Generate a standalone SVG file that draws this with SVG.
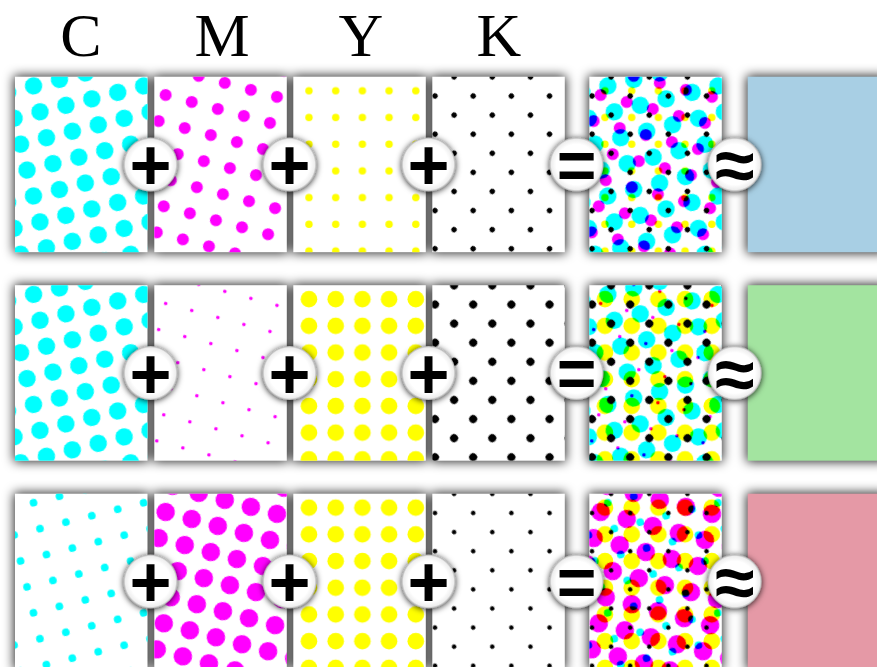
<svg xmlns="http://www.w3.org/2000/svg" width="877" height="667" viewBox="0 0 877 667">
<style>
.hdr{font-family:"Liberation Serif","Times New Roman",serif;font-size:62px;fill:#000;text-anchor:middle}
.op{font-family:"Liberation Sans",Arial,sans-serif;font-weight:bold;font-size:72px;fill:#000;text-anchor:middle}
.eq{font-size:68px}
.paper{fill:#fff}
.mix{mix-blend-mode:multiply}
.sh{fill:#000;opacity:0.85}
.disc{fill:url(#discg);filter:url(#dshadow)}
</style>
<defs>
<filter id="blur" x="-20%" y="-20%" width="140%" height="140%"><feGaussianBlur stdDeviation="5.5"/></filter>
<filter id="dshadow" x="-40%" y="-40%" width="180%" height="180%"><feDropShadow dx="0" dy="1" stdDeviation="3" flood-color="#000" flood-opacity="0.85"/></filter>
<radialGradient id="discg" cx="0.5" cy="0.5" r="0.5"><stop offset="0.75" stop-color="#fff"/><stop offset="0.93" stop-color="#eee"/><stop offset="1" stop-color="#aaa"/></radialGradient>
<pattern id="c1" width="26.7" height="26.7" patternUnits="userSpaceOnUse" patternTransform="rotate(-14)"><circle cx="15.8" cy="13.3" r="8.7" fill="#0ff"/></pattern>
<pattern id="c3" width="26.7" height="26.7" patternUnits="userSpaceOnUse" patternTransform="rotate(-14)"><circle cx="15.8" cy="13.3" r="3.8" fill="#0ff"/></pattern>
<pattern id="m1" width="27" height="27" patternUnits="userSpaceOnUse" patternTransform="rotate(15)"><circle cx="15.7" cy="14.75" r="6" fill="#f0f"/></pattern>
<pattern id="m2" width="27" height="27" patternUnits="userSpaceOnUse" patternTransform="rotate(15)"><circle cx="15.7" cy="14.75" r="1.8" fill="#f0f"/></pattern>
<pattern id="m3" width="27" height="27" patternUnits="userSpaceOnUse" patternTransform="rotate(15)"><circle cx="15.7" cy="14.75" r="9.3" fill="#f0f"/></pattern>
<pattern id="y1" width="26.7" height="26.7" patternUnits="userSpaceOnUse"><circle cx="15.7" cy="14" r="3.7" fill="#ff0"/></pattern>
<pattern id="y2" width="26.7" height="26.7" patternUnits="userSpaceOnUse"><circle cx="15.7" cy="14" r="8.3" fill="#ff0"/></pattern>
<pattern id="k1" width="27" height="27" patternUnits="userSpaceOnUse" patternTransform="rotate(45)"><circle cx="15.56" cy="11.74" r="2.7" fill="#000"/></pattern>
<pattern id="k2" width="27" height="27" patternUnits="userSpaceOnUse" patternTransform="rotate(45)"><circle cx="15.56" cy="11.74" r="4" fill="#000"/></pattern>
<pattern id="k3" width="27" height="27" patternUnits="userSpaceOnUse" patternTransform="rotate(45)"><circle cx="15.56" cy="11.74" r="2.3" fill="#000"/></pattern>
<rect id="tile" width="132.5" height="175.5"/>
</defs>
<rect width="877" height="667" fill="#fff"/>

<g id="headers">
<text class="hdr" x="81" y="56">C</text>
<text class="hdr" x="222" y="56">M</text>
<text class="hdr" x="361" y="56">Y</text>
<text class="hdr" x="499" y="56">K</text>
</g>

<g id="shadows" filter="url(#blur)">
<rect class="sh" x="14" y="75.7" width="134.5" height="177.5"/>
<rect class="sh" x="153.3" y="75.7" width="134.5" height="177.5"/>
<rect class="sh" x="292.3" y="75.7" width="134.5" height="177.5"/>
<rect class="sh" x="431.3" y="75.7" width="134.5" height="177.5"/>
<rect class="sh" x="588.3" y="75.7" width="134.5" height="177.5"/>
<rect class="sh" x="746.7" y="75.7" width="140" height="177.5"/>
<rect class="sh" x="14" y="284.2" width="134.5" height="177.5"/>
<rect class="sh" x="153.3" y="284.2" width="134.5" height="177.5"/>
<rect class="sh" x="292.3" y="284.2" width="134.5" height="177.5"/>
<rect class="sh" x="431.3" y="284.2" width="134.5" height="177.5"/>
<rect class="sh" x="588.3" y="284.2" width="134.5" height="177.5"/>
<rect class="sh" x="746.7" y="284.2" width="140" height="177.5"/>
<rect class="sh" x="14" y="492.7" width="134.5" height="177.5"/>
<rect class="sh" x="153.3" y="492.7" width="134.5" height="177.5"/>
<rect class="sh" x="292.3" y="492.7" width="134.5" height="177.5"/>
<rect class="sh" x="431.3" y="492.7" width="134.5" height="177.5"/>
<rect class="sh" x="588.3" y="492.7" width="134.5" height="177.5"/>
<rect class="sh" x="746.7" y="492.7" width="140" height="177.5"/>
</g>

<g id="r1-c" transform="translate(15,76.7)"><use href="#tile" class="paper"/><use href="#tile" fill="url(#c1)"/></g>
<g id="r1-m" transform="translate(154.3,76.7)"><use href="#tile" class="paper"/><use href="#tile" fill="url(#m1)"/></g>
<g id="r1-y" transform="translate(293.3,76.7)"><use href="#tile" class="paper"/><use href="#tile" fill="url(#y1)"/></g>
<g id="r1-k" transform="translate(432.3,76.7)"><use href="#tile" class="paper"/><use href="#tile" fill="url(#k1)"/></g>
<g id="r1-mix" transform="translate(589.3,76.7)" style="isolation:isolate"><use href="#tile" class="paper"/><use href="#tile" class="mix" fill="url(#c1)"/><use href="#tile" class="mix" fill="url(#m1)"/><use href="#tile" class="mix" fill="url(#y1)"/><use href="#tile" class="mix" fill="url(#k1)"/></g>
<g id="r1-result"><rect x="747.7" y="76.7" width="140" height="175.5" fill="#a8cfe4"/></g>

<g id="r2-c" transform="translate(15,285.2)"><use href="#tile" class="paper"/><use href="#tile" fill="url(#c1)"/></g>
<g id="r2-m" transform="translate(154.3,285.2)"><use href="#tile" class="paper"/><use href="#tile" fill="url(#m2)"/></g>
<g id="r2-y" transform="translate(293.3,285.2)"><use href="#tile" class="paper"/><use href="#tile" fill="url(#y2)"/></g>
<g id="r2-k" transform="translate(432.3,285.2)"><use href="#tile" class="paper"/><use href="#tile" fill="url(#k2)"/></g>
<g id="r2-mix" transform="translate(589.3,285.2)" style="isolation:isolate"><use href="#tile" class="paper"/><use href="#tile" class="mix" fill="url(#c1)"/><use href="#tile" class="mix" fill="url(#m2)"/><use href="#tile" class="mix" fill="url(#y2)"/><use href="#tile" class="mix" fill="url(#k2)"/></g>
<g id="r2-result"><rect x="747.7" y="285.2" width="140" height="175.5" fill="#a3e4a0"/></g>

<g id="r3-c" transform="translate(15,493.7)"><use href="#tile" class="paper"/><use href="#tile" fill="url(#c3)"/></g>
<g id="r3-m" transform="translate(154.3,493.7)"><use href="#tile" class="paper"/><use href="#tile" fill="url(#m3)"/></g>
<g id="r3-y" transform="translate(293.3,493.7)"><use href="#tile" class="paper"/><use href="#tile" fill="url(#y2)"/></g>
<g id="r3-k" transform="translate(432.3,493.7)"><use href="#tile" class="paper"/><use href="#tile" fill="url(#k3)"/></g>
<g id="r3-mix" transform="translate(589.3,493.7)" style="isolation:isolate"><use href="#tile" class="paper"/><use href="#tile" class="mix" fill="url(#c3)"/><use href="#tile" class="mix" fill="url(#m3)"/><use href="#tile" class="mix" fill="url(#y2)"/><use href="#tile" class="mix" fill="url(#k3)"/></g>
<g id="r3-result"><rect x="747.7" y="493.7" width="140" height="175.5" fill="#e599a6"/></g>

<g id="operators">
<g id="r1-op1"><circle class="disc" cx="150.5" cy="164.5" r="27"/><text class="op" x="150.5" y="190">+</text></g>
<g id="r1-op2"><circle class="disc" cx="289.5" cy="164.5" r="27"/><text class="op" x="289.5" y="190">+</text></g>
<g id="r1-op3"><circle class="disc" cx="428.5" cy="164.5" r="27"/><text class="op" x="428.5" y="190">+</text></g>
<g id="r1-op4"><circle class="disc" cx="576.5" cy="164.5" r="27"/><text class="op eq" x="576.5" y="188.5">=</text></g>
<g id="r1-op5"><circle class="disc" cx="734.7" cy="164.5" r="27"/><text class="op" x="734.7" y="190">≈</text></g>
<g id="r2-op1"><circle class="disc" cx="150.5" cy="373" r="27"/><text class="op" x="150.5" y="398.5">+</text></g>
<g id="r2-op2"><circle class="disc" cx="289.5" cy="373" r="27"/><text class="op" x="289.5" y="398.5">+</text></g>
<g id="r2-op3"><circle class="disc" cx="428.5" cy="373" r="27"/><text class="op" x="428.5" y="398.5">+</text></g>
<g id="r2-op4"><circle class="disc" cx="576.5" cy="373" r="27"/><text class="op eq" x="576.5" y="397">=</text></g>
<g id="r2-op5"><circle class="disc" cx="734.7" cy="373" r="27"/><text class="op" x="734.7" y="398.5">≈</text></g>
<g id="r3-op1"><circle class="disc" cx="150.5" cy="581.5" r="27"/><text class="op" x="150.5" y="607">+</text></g>
<g id="r3-op2"><circle class="disc" cx="289.5" cy="581.5" r="27"/><text class="op" x="289.5" y="607">+</text></g>
<g id="r3-op3"><circle class="disc" cx="428.5" cy="581.5" r="27"/><text class="op" x="428.5" y="607">+</text></g>
<g id="r3-op4"><circle class="disc" cx="576.5" cy="581.5" r="27"/><text class="op eq" x="576.5" y="605.5">=</text></g>
<g id="r3-op5"><circle class="disc" cx="734.7" cy="581.5" r="27"/><text class="op" x="734.7" y="607">≈</text></g>
</g>
</svg>
